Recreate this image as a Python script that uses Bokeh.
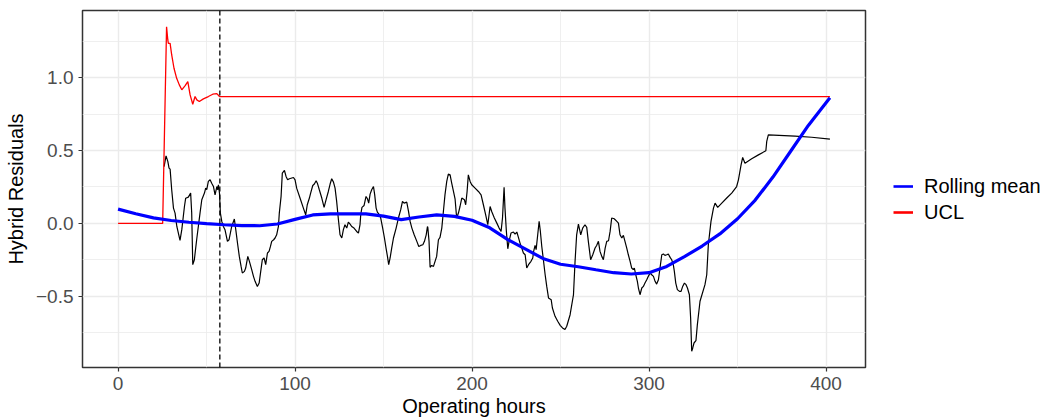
from bokeh.plotting import figure
from bokeh.layouts import row
from bokeh.models import Range1d, FixedTicker, Span, Legend, LegendItem
from bokeh.embed import file_html
from bokeh.resources import INLINE

# Hybrid residual trace (operating hours, residual)
resid_hours = [
    26.0, 27.1, 28.1, 28.8, 29.4, 30.3, 31.3, 32.2, 33.2, 35.0, 36.0, 37.5, 38.2, 39.7,
    41.0, 41.6, 42.2, 43.1, 44.4, 46.3, 47.3, 48.8, 49.5, 50.1, 51.0, 52.0, 52.9, 53.9,
    54.8, 55.8, 56.3, 56.7, 57.3, 57.8, 58.6, 59.5, 60.4, 61.8, 62.7, 64.2, 65.7, 66.5,
    67.6, 68.5, 69.5, 70.2, 71.4, 72.1, 73.3, 74.2, 75.5, 76.5, 77.4, 78.7, 79.7, 80.6,
    81.5, 82.5, 83.4, 84.4, 85.3, 86.1, 86.8, 87.9, 88.7, 89.6, 90.6, 91.1, 92.1, 92.8,
    94.0, 94.9, 95.8, 96.8,
    99.1, 100.0, 100.9, 102.8, 104.7, 106.0, 106.9, 108.1, 108.8, 110.0, 110.9, 111.9,
    112.6, 113.7, 115.1, 116.4, 117.5, 118.8, 119.8, 120.7, 121.7, 122.6, 123.5, 124.5,
    125.4, 126.4, 127.3, 128.2, 129.2, 130.1, 131.1, 132.0, 133.3, 134.8, 135.8, 136.7,
    137.1, 137.8, 139.0, 140.1, 140.9, 141.6, 142.4, 143.3, 144.3, 145.0, 145.8, 146.5,
    147.7, 148.4, 149.5, 150.5, 151.4, 152.2, 152.9, 153.7, 154.6, 155.6, 157.1, 158.4,
    159.7, 160.7, 161.6, 163.1, 164.1, 165.0, 166.0, 167.3, 168.8, 169.9, 171.0, 172.2,
    173.1, 174.1, 174.8,
    175.0, 175.7, 176.3, 177.2, 178.2, 179.1, 180.0, 181.0, 181.9, 182.9, 183.8, 184.7,
    185.7, 186.6, 187.6, 188.5, 189.5, 190.4, 191.3, 192.3, 193.2, 194.2, 195.7, 196.4,
    197.2, 197.9, 198.9, 199.8, 201.7, 203.6, 205.1, 206.4, 207.7, 208.9, 210.2, 211.1,
    212.6, 214.0, 215.3, 216.4, 217.2, 218.1, 218.6, 219.4, 220.2, 220.9, 222.0, 223.4,
    224.3, 225.3, 226.2, 227.1, 228.1, 229.0, 230.0, 230.9, 231.9, 233.3, 234.3, 234.8,
    235.6, 236.2, 237.1, 237.9, 238.6, 239.4, 240.3, 241.3, 242.2, 243.2, 244.7, 245.4,
    246.9, 248.4, 249.8, 251.1,
    252.5, 253.5, 255.4, 257.3, 258.2, 259.1, 260.1, 261.4, 262.5, 263.8, 264.8, 265.7,
    267.0, 268.2, 269.5, 270.4, 271.4, 272.3, 273.3, 274.2, 275.2, 276.1, 277.1, 278.0,
    278.9, 280.3, 281.8, 282.7, 283.6, 284.6, 285.5, 286.4, 287.4, 288.3, 289.3, 290.2,
    291.1, 291.7, 292.5, 293.4, 294.0,
    294.9, 295.9, 296.8, 297.7, 298.7, 299.6, 300.6, 301.5, 302.5, 303.4, 304.3, 305.3,
    306.2, 307.2, 308.1, 309.0, 310.0, 310.9, 311.9, 312.8, 313.7, 314.3, 315.1, 316.0,
    317.2, 318.1, 319.0, 320.0, 320.9, 321.7, 322.8, 323.5, 324.1, 324.7, 325.4, 326.5,
    327.3,
    328.8, 331.6, 332.6, 333.5, 335.0, 336.4, 337.3, 338.8, 341.1, 343.9, 346.7, 349.5,
    350.5, 352.0, 352.9, 354.2, 358.0, 361.8, 366.0, 366.5, 367.4, 382.5, 391.9, 402.2,
]
resid = [
    0.390, 0.463, 0.425, 0.379, 0.372, 0.231, 0.105, 0.071, -0.021, -0.116, -0.043, 0.116, 0.173, 0.180,
    0.208, 0.071, -0.283, -0.249, -0.112, 0.071, 0.162, 0.208, 0.242, 0.231, 0.288, 0.299, 0.276, 0.253,
    0.196, 0.253, 0.231, 0.265, 0.208, 0.071, 0.014, -0.021, -0.043, -0.123, -0.112, -0.021, 0.030, -0.043,
    -0.146, -0.226, -0.295, -0.340, -0.329, -0.306, -0.226, -0.260, -0.317, -0.363, -0.397, -0.432, -0.409, -0.329,
    -0.249, -0.237, -0.283, -0.203, -0.192, -0.158, -0.123, -0.112, -0.100, -0.078, -0.021, 0.071, 0.185, 0.345,
    0.363, 0.322, 0.299, 0.306,
    0.315, 0.299, 0.242, 0.174, 0.105, 0.059, 0.128, 0.174, 0.208, 0.260, 0.270, 0.292,
    0.276, 0.231, 0.174, 0.110, 0.162, 0.219, 0.270, 0.306, 0.283, 0.242, 0.151, 0.025,
    -0.078, -0.100, -0.043, -0.009, -0.032, 0.009, -0.005, -0.021, -0.032, -0.055, -0.066, -0.009,
    0.059, 0.110, 0.123, 0.185, 0.169, 0.139, 0.201, 0.231, 0.253, 0.196, 0.105, 0.077,
    0.059, 0.037, -0.032, -0.100, -0.169, -0.226, -0.283, -0.237, -0.169, -0.100, -0.032, 0.037,
    0.094, 0.151, 0.139, 0.146, 0.082, 0.014, -0.032, -0.078, -0.123, -0.158, -0.151, -0.146,
    -0.123, -0.078, -0.021,
    -0.027, -0.123, -0.301, -0.288, -0.295, -0.260, -0.226, -0.112, -0.096, -0.032, 0.082, 0.196,
    0.288, 0.338, 0.333, 0.276, 0.219, 0.169, 0.037, 0.071, 0.116, 0.174, 0.162, 0.128,
    0.219, 0.333, 0.288, 0.265, 0.242, 0.219, 0.196, 0.128, 0.059, -0.009, 0.116, 0.082,
    0.037, 0.002, -0.032, -0.055, 0.037, 0.247, 0.105, -0.055, -0.174, -0.123, -0.066, -0.059,
    -0.073, -0.059, -0.096, -0.135, -0.169, -0.203, -0.215, -0.306, -0.283, -0.260, -0.237, -0.192,
    -0.151, -0.180, -0.078, 0.014, -0.055, -0.158, -0.249, -0.352, -0.432, -0.511, -0.523, -0.580,
    -0.637, -0.671, -0.699, -0.717,
    -0.728, -0.705, -0.626, -0.489, -0.260, -0.078, -0.005, -0.078, -0.032, -0.009, -0.027, -0.123,
    -0.249, -0.215, -0.169, -0.151, -0.123, -0.192, -0.226, -0.249, -0.169, -0.123, -0.119, -0.055,
    0.037, 0.032, 0.014, 0.002, -0.078, -0.100, -0.082, -0.123, -0.169, -0.215, -0.260, -0.306,
    -0.317, -0.306, -0.352, -0.397, -0.443,
    -0.489, -0.443, -0.432, -0.409, -0.386, -0.363, -0.340, -0.352, -0.363, -0.397, -0.416, -0.386,
    -0.306, -0.215, -0.210, -0.219, -0.215, -0.210, -0.233, -0.249, -0.283, -0.329, -0.409, -0.454,
    -0.466, -0.466, -0.432, -0.409, -0.420, -0.443, -0.489, -0.648, -0.877, -0.854, -0.820, -0.804,
    -0.694,
    -0.534, -0.420, -0.352, -0.146, 0.014, 0.105, 0.139, 0.110, 0.139, 0.174, 0.208, 0.253,
    0.299, 0.402, 0.452, 0.413, 0.443, 0.470, 0.498, 0.562, 0.607, 0.598, 0.591, 0.578,
]

# Upper control limit
ucl_hours = [0.0, 25.2, 27.4, 28.1, 28.4, 29.4, 30.3, 31.6, 33.1, 34.6, 36.0, 37.9, 39.4,
             40.7, 42.2, 43.5, 44.5, 45.9, 48.2, 51.0, 53.5, 55.8, 57.3, 402.2]
ucl = [0.0, 0.0, 1.349, 1.258, 1.235, 1.235, 1.155, 1.064, 0.995, 0.950, 0.916, 0.945, 0.973,
       0.881, 0.817, 0.870, 0.847, 0.836, 0.854, 0.870, 0.886, 0.890, 0.870, 0.870]

# Smoothed rolling mean
mean_hours = [0, 10, 20, 30, 40, 50, 60, 70, 80, 90, 100, 110, 120, 130, 140, 150, 160, 170,
              180, 190, 200, 210, 220, 230, 240, 250, 260, 270, 280, 290, 300, 310, 320, 330,
              340, 350, 360, 370, 380, 390, 400, 402.2]
rolling_mean = [0.098, 0.066, 0.038, 0.020, 0.008, -0.002, -0.009, -0.015, -0.016, -0.004,
                0.028, 0.058, 0.065, 0.066, 0.066, 0.050, 0.026, 0.044, 0.058, 0.048, 0.022,
                -0.030, -0.110, -0.175, -0.240, -0.280, -0.297, -0.318, -0.338, -0.347, -0.338,
                -0.295, -0.228, -0.155, -0.072, 0.032, 0.160, 0.318, 0.495, 0.672, 0.828, 0.862]

warmup_end = 57.5

x_ticks = [0, 100, 200, 300, 400]
x_tick_labels = ["0", "100", "200", "300", "400"]
x_minor = [-50, 50, 150, 250, 350, 450]
y_ticks = [-0.5, 0.0, 0.5, 1.0]
y_tick_labels = ["\u22120.5", "0.0", "0.5", "1.0"]
y_minor = [-0.75, -0.25, 0.25, 0.75, 1.25]

series_labels = ["Rolling mean", "UCL"]
series_colors = ["blue", "red"]

FONT = "Liberation Sans"

p = figure(width=870, height=420, output_backend="svg", toolbar_location=None,
           x_range=Range1d(-20.1, 422.3), y_range=Range1d(-0.988, 1.460),
           min_border_left=82, min_border_right=5, min_border_top=10, min_border_bottom=53,
           background_fill_color="white", border_fill_color="white")

p.outline_line_color = "#333333"
p.outline_line_width = 1.5

p.xaxis.ticker = FixedTicker(ticks=x_ticks, minor_ticks=x_minor)
p.yaxis.ticker = FixedTicker(ticks=y_ticks, minor_ticks=y_minor)
p.xaxis.major_label_overrides = dict(zip(x_ticks, x_tick_labels))
p.yaxis.major_label_overrides = dict(zip(y_ticks, y_tick_labels))

for g in (p.xgrid, p.ygrid):
    g.grid_line_color = "#EBEBEB"
    g.grid_line_width = 1.4
    g.minor_grid_line_color = "#EBEBEB"
    g.minor_grid_line_width = 0.8

for ax in (p.xaxis, p.yaxis):
    ax.axis_line_color = None
    ax.minor_tick_line_color = None
    ax.major_tick_line_color = "#333333"
    ax.major_tick_line_width = 1.2
    ax.major_tick_out = 4
    ax.major_tick_in = 0
    ax.major_label_text_font = FONT
    ax.major_label_text_font_size = "19px"
    ax.major_label_text_color = "#4D4D4D"
    ax.major_label_standoff = 5
    ax.axis_label_text_font = FONT
    ax.axis_label_text_font_size = "20px"
    ax.axis_label_text_font_style = "normal"
    ax.axis_label_text_color = "black"

p.xaxis.axis_label = "Operating hours"
p.yaxis.axis_label = "Hybrid Residuals"
p.xaxis.axis_label_standoff = 2
p.yaxis.axis_label_standoff = 6

p.line(resid_hours, resid, line_color="black", line_width=1.2)
p.line(ucl_hours, ucl, line_color="red", line_width=1.3)
p.line(mean_hours, rolling_mean, line_color="blue", line_width=3.2)

p.add_layout(Span(location=warmup_end, dimension="height", line_color="black",
                  line_width=1.3, line_dash="5 3"))

# side panel holding the legend
lg = figure(width=177, height=420, output_backend="svg", toolbar_location=None,
            x_range=Range1d(0, 1), y_range=Range1d(0, 1),
            min_border=0, x_axis_location=None, y_axis_location=None,
            background_fill_color="white", border_fill_color="white")
lg.outline_line_color = None
lg.grid.visible = False

nan = float("nan")
items = []
for label, color in zip(series_labels, series_colors):
    # key-only renderer: a single undefined point, so only the legend swatch shows
    key = lg.line(x=[nan], y=[nan], line_color=color, line_width=2.6)
    items.append(LegendItem(label=label, renderers=[key]))

legend = Legend(items=items, location=(23, 142), orientation="vertical",
                padding=0, margin=0, spacing=0,
                glyph_width=20, glyph_height=26, label_height=26, label_standoff=11,
                label_text_font=FONT, label_text_font_size="20px", label_text_color="black",
                border_line_color=None, background_fill_alpha=0)
lg.add_layout(legend)

layout = row(p, lg, spacing=0)
open("out.html", "w").write(file_html(layout, INLINE))
